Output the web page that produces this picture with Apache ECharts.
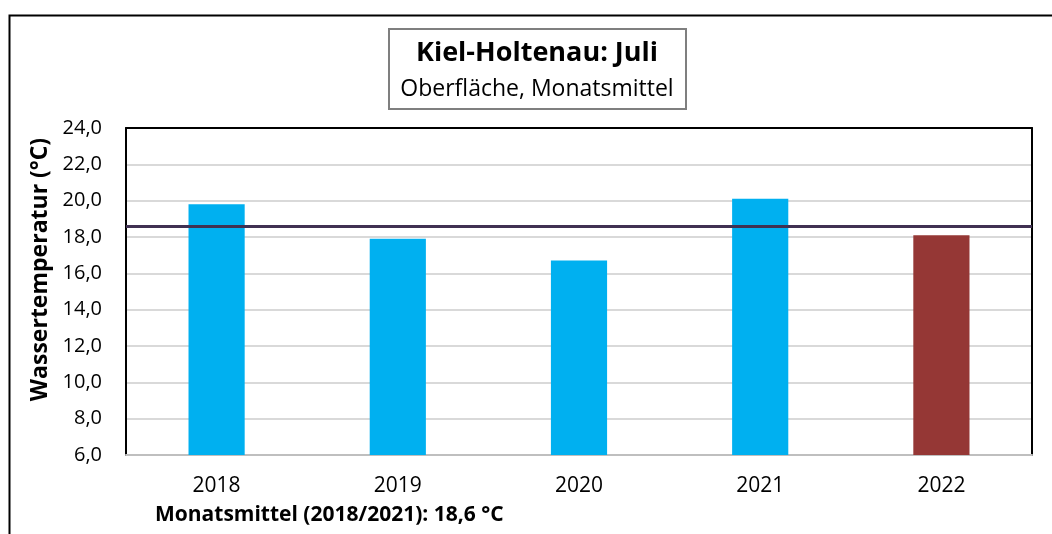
<!DOCTYPE html>
<html>
<head>
<meta charset="utf-8">
<script src="https://cdn.jsdelivr.net/npm/echarts@6/dist/echarts.min.js"></script>
<style>
  html, body { margin: 0; padding: 0; background: #fff; }
  #chart { width: 1052px; height: 534px; }
</style>
</head>
<body>
<div id="chart"></div>
<script>
// Daten
let years = ["2018", "2019", "2020", "2021", "2022"];
let temps = [19.8, 17.9, 16.7, 20.1, 18.1];
let barColors = ["#00B0F0", "#00B0F0", "#00B0F0", "#00B0F0", "#953735"];
let mittel = 18.6;
let yMin = 6, yMax = 24, yStep = 2;

let font = "'Open Sans', sans-serif";
let fmt = v => v.toFixed(1).replace(".", ",");

var myChart = echarts.init(document.getElementById("chart"));

var option = {
    animation: false,
    grid: { left: 126, right: 20, top: 128, bottom: 79 },
    xAxis: [{
        type: "category",
        data: years,
        axisLine: { lineStyle: { color: "#bfbfbf", width: 2 } },
        axisTick: { show: false },
        axisLabel: { color: "#000", fontFamily: font, fontSize: 21, margin: 21 }
    }, {
        type: "category",
        position: "top",
        data: years,
        axisLine: { lineStyle: { color: "#000", width: 2 } },
        axisTick: { show: false },
        axisLabel: { show: false }
    }],
    yAxis: [{
        type: "value",
        min: yMin, max: yMax, interval: yStep,
        name: "Wassertemperatur (°C)",
        nameLocation: "middle",
        nameGap: 73,
        nameTextStyle: { color: "#000", fontFamily: font, fontSize: 23, fontWeight: "bold",
                         padding: [0, 0, 0, 44] },
        axisLine: { show: true, lineStyle: { color: "#000", width: 2 } },
        axisTick: { show: false },
        axisLabel: { color: "#000", fontFamily: font, fontSize: 20, margin: 24, formatter: fmt },
        splitLine: { lineStyle: { color: "#d9d9d9", width: 2 } }
    }, {
        type: "value",
        position: "right",
        min: yMin, max: yMax, interval: yStep,
        axisLine: { show: true, lineStyle: { color: "#000", width: 2 } },
        axisTick: { show: false },
        axisLabel: { show: false },
        splitLine: { show: false }
    }],
    series: [{
        type: "bar",
        barWidth: "31%",
        data: temps.map((v, i) => ({ value: v, itemStyle: { color: barColors[i] } })),
        markLine: {
            silent: true,
            symbol: "none",
            label: { show: false },
            lineStyle: { color: "#403152", width: 3, type: "solid" },
            data: [{ yAxis: mittel }]
        }
    }],
    graphic: [
        { type: "rect", left: 7, top: 13, shape: { width: 1060, height: 540 },
          style: { fill: null, stroke: "#000", lineWidth: 2 }, z: 10 },
        { type: "rect", left: 388, top: 28, shape: { width: 297, height: 80 },
          style: { fill: "#fff", stroke: "#7f7f7f", lineWidth: 2 }, z: 10 },
        { type: "text", x: 537, y: 53, z: 11,
          style: { text: "Kiel-Holtenau: Juli", fill: "#000", font: "bold 27px " + font,
                   textAlign: "center", textVerticalAlign: "middle" } },
        { type: "text", x: 537, y: 89, z: 11,
          style: { text: "Oberfläche, Monatsmittel", fill: "#000", font: "23px " + font,
                   textAlign: "center", textVerticalAlign: "middle" } },
        { type: "text", x: 155, y: 515, z: 11,
          style: { text: "Monatsmittel (2018/2021): " + fmt(mittel) + " °C", fill: "#000",
                   font: "bold 21px " + font, textVerticalAlign: "middle" } }
    ]
};

myChart.setOption(option);
</script>
</body>
</html>
